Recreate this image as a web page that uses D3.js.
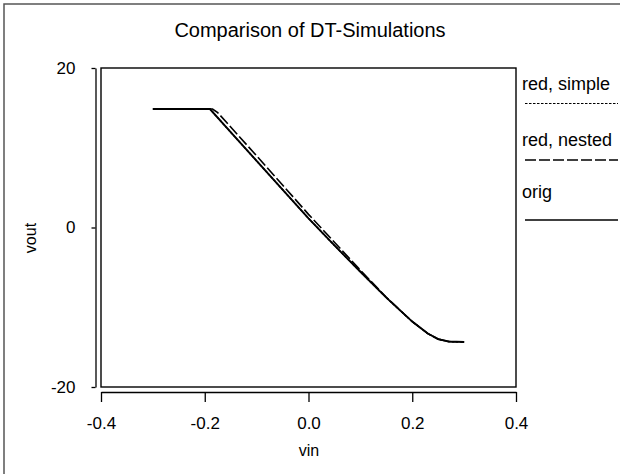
<!DOCTYPE html>
<html>
<head>
<meta charset="utf-8">
<script src="https://cdn.jsdelivr.net/npm/d3@7"></script>
<style>
    body { margin: 0; background: #fff; }
    text { font-family: "Liberation Sans", Arial, sans-serif; fill: #000; }
    .axis path, .axis line { stroke: #000; stroke-width: 1.3; }
</style>
</head>
<body>
<div id="chart"></div>
<script>
// Data
const xTicks = [-0.4, -0.2, 0.0, 0.2, 0.4];
const yTicks = [-20, 0, 20];

const vinOrig = [-0.30, -0.19, -0.15, -0.10, -0.05, 0.00, 0.05, 0.10, 0.15, 0.20, 0.23, 0.25, 0.27, 0.30];
const voutOrig = [14.85, 14.85, 11.95, 8.35, 4.75, 1.15, -2.25, -5.55, -8.8, -11.8, -13.3, -14.0, -14.3, -14.35];

const vinSimple = [-0.30, -0.19, -0.15, -0.10, -0.05, 0.00, 0.05, 0.10, 0.15, 0.20, 0.23, 0.25, 0.27, 0.30];
const voutSimple = [14.85, 14.85, 11.95, 8.35, 4.75, 1.15, -2.25, -5.55, -8.8, -11.8, -13.3, -14.0, -14.3, -14.35];

const vinNested = [-0.30, -0.185, -0.175, -0.15, -0.10, -0.05, 0.00, 0.05, 0.10, 0.15, 0.20, 0.23, 0.25, 0.27, 0.30];
const voutNested = [14.85, 14.85, 14.4, 12.6, 8.99, 5.33, 1.65, -1.85, -5.35, -8.75, -11.8, -13.3, -14.0, -14.3, -14.35];

const legendNames = ["red, simple", "red, nested", "orig"];
const legendDash = ["2.5,1.5", "11,3", null];

(function () {
    const width = 620, height = 474;

    const svg = d3.select("#chart").append("svg")
        .attr("width", width)
        .attr("height", height);

    // outer frame (runs off the right and bottom edge)
    svg.append("rect")
        .attr("x", 4).attr("y", 4)
        .attr("width", 700).attr("height", 600)
        .attr("fill", "none")
        .attr("stroke", "#555")
        .attr("stroke-width", 1.5);

    // scales
    const x = d3.scaleLinear().domain([-0.4, 0.4]).range([101, 516]);
    const y = d3.scaleLinear().domain([-20, 20]).range([387, 68]);

    // title
    svg.append("text")
        .attr("x", 310).attr("y", 37)
        .attr("text-anchor", "middle")
        .attr("font-size", 20)
        .text("Comparison of DT-Simulations");

    // plot box
    svg.append("rect")
        .attr("x", x(-0.4)).attr("y", y(20))
        .attr("width", x(0.4) - x(-0.4))
        .attr("height", y(-20) - y(20))
        .attr("fill", "none")
        .attr("stroke", "#000")
        .attr("stroke-width", 1.4);

    // y axis, set off to the left of the box
    const yAxis = svg.append("g")
        .attr("class", "axis")
        .attr("transform", "translate(95.5,0)")
        .call(d3.axisLeft(y).tickValues(yTicks).tickSize(4).tickSizeOuter(0)
            .tickPadding(16).tickFormat(d => String(d)));
    yAxis.selectAll("text").attr("font-size", 17).attr("font-family", null);

    // x axis, set off below the box
    const xAxis = svg.append("g")
        .attr("class", "axis")
        .attr("transform", "translate(0,392)")
        .call(d3.axisBottom(x).tickValues(xTicks).tickSize(10).tickSizeOuter(0)
            .tickPadding(15).tickFormat(d => d.toFixed(1)));
    xAxis.selectAll("text").attr("font-size", 17).attr("font-family", null);

    // axis titles
    svg.append("text")
        .attr("x", 309).attr("y", 456)
        .attr("text-anchor", "middle")
        .attr("font-size", 16)
        .text("vin");

    svg.append("text")
        .attr("transform", "translate(36,238) rotate(-90)")
        .attr("text-anchor", "middle")
        .attr("font-size", 16)
        .text("vout");

    // curves
    const line = d3.line()
        .x(d => x(d[0]))
        .y(d => y(d[1]));

    const series = [
        { pts: d3.zip(vinSimple, voutSimple), dash: legendDash[0], w: 1.5 },
        { pts: d3.zip(vinNested, voutNested), dash: legendDash[1], w: 1.6 },
        { pts: d3.zip(vinOrig, voutOrig), dash: legendDash[2], w: 1.9 }
    ];

    svg.selectAll(".curve")
        .data(series)
        .enter()
        .append("path")
        .attr("class", "curve")
        .attr("d", d => line(d.pts))
        .attr("fill", "none")
        .attr("stroke", "#000")
        .attr("stroke-width", d => d.w)
        .attr("stroke-dasharray", d => d.dash);

    // legend outside the box on the right
    const textY = [90, 146, 198];
    const lineY = [103.5, 160, 220];

    const legend = svg.selectAll(".legend")
        .data(legendNames)
        .enter()
        .append("g")
        .attr("class", "legend");

    legend.append("text")
        .attr("x", 522)
        .attr("y", (d, i) => textY[i])
        .attr("font-size", 18)
        .text(d => d);

    legend.append("line")
        .attr("x1", 525).attr("x2", 618)
        .attr("y1", (d, i) => lineY[i])
        .attr("y2", (d, i) => lineY[i])
        .attr("stroke", "#000")
        .attr("stroke-width", (d, i) => i === 0 ? 1 : 1.4)
        .attr("stroke-dasharray", (d, i) => legendDash[i]);
})();
</script>
</body>
</html>
